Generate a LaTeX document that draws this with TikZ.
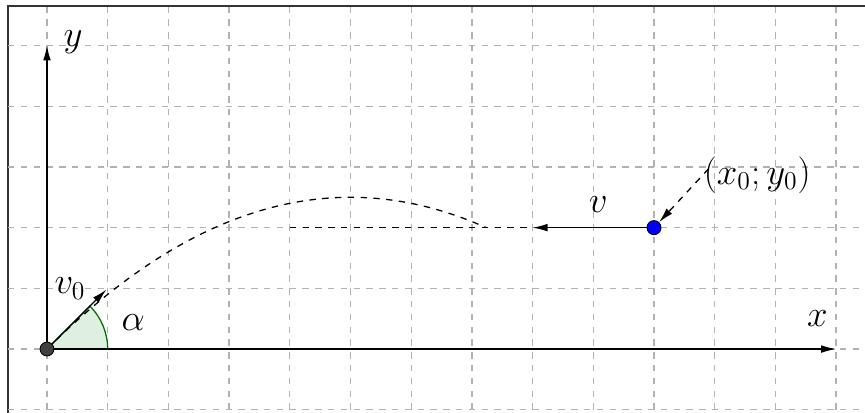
\documentclass[tikz,border=0pt]{standalone}
\usetikzlibrary{arrows.meta}
\begin{document}
\begin{tikzpicture}[
  gridline/.style={draw=black!30, dashed, line width=0.6pt},
  axis/.style={line width=0.6pt, -{Latex[length=7pt,width=3.6pt]}},
  lbl/.style={font=\fontsize{18}{21}\selectfont, inner sep=1pt},
  traj/.style={dashed, line width=0.6pt},
]
\useasboundingbox (-0.774,-1.038) rectangle (13.476,5.75);
\clip (-0.774,-1.038) rectangle (13.476,5.75);
% frame
\draw[black!80, line width=0.8pt] (-0.643,-1.6) rectangle (14,5.65);
% grid
\foreach \i in {0,...,13} \draw[gridline] (\i,-1) -- (\i,5.65);
\foreach \j in {-1,...,5} \draw[gridline] (-0.643,\j) -- (13.476,\j);
% angle
\draw[fill=green!50!black!12, draw=green!45!black, line width=0.6pt] (0,0) -- (1,0) arc[start angle=0, end angle=45, radius=1] -- cycle;
% axes
\coordinate (O) at (0,0);
\coordinate (xe) at (13,0);
\coordinate (ye) at (0,5);
\draw[axis] (O) -- (xe);
\draw[axis] (O) -- (ye);
\node[lbl] (xl) at (12.69,0.51) {$x$};
\node[lbl] (yl) at (0.43,5.06) {$y$};
% trajectory
\draw[traj] plot[domain=0:7.236, samples=80] (\x,{2.5-0.1*(\x-5)^2});
\coordinate (fs) at (4,2);
\coordinate (fe) at (8,2);
\draw[traj] (fs) -- (fe);
% v0
\coordinate (v0e) at (0.98,0.98);
\draw[axis] (O) -- (v0e);
\node[lbl] (v0l) at (0.38,1.0) {$v_0$};
\node[lbl] (al) at (1.42,0.43) {$\alpha$};
% start point
\node[circle, fill=blue, draw=black, line width=0.4pt, inner sep=0pt, minimum size=6.6pt] (P) at (10,2) {};
\draw[axis] (P) -- (fe);
\node[lbl] (vl) at (9.08,2.38) {$v$};
\node[lbl, anchor=west] (pl) at (10.78,2.87) {$(x_0;y_0)$};
\draw[traj, -{Latex[length=7pt,width=3.6pt]}] (10.9,2.97) -- (P);
% origin dot
\node[circle, fill=black!75, draw=black, line width=0.4pt, inner sep=0pt, minimum size=6.5pt] (Od) at (O) {};
\end{tikzpicture}
\end{document}
